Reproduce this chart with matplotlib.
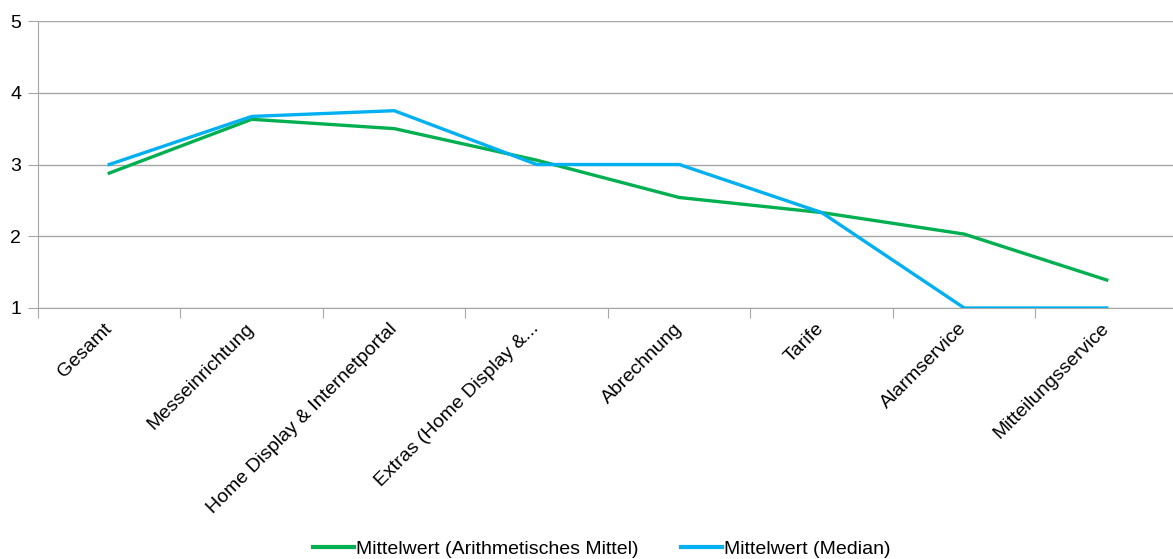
import numpy as np
import matplotlib
matplotlib.use('Agg')
import matplotlib.pyplot as plt

plt.rcParams['font.family'] = ['Liberation Sans', 'DejaVu Sans']

# Kategorien und Werte
kategorien = ['Gesamt', 'Messeinrichtung', 'Home Display & Internetportal',
              'Extras (Home Display &...', 'Abrechnung', 'Tarife',
              'Alarmservice', 'Mitteilungsservice']
mittel = [2.88, 3.63, 3.50, 3.06, 2.54, 2.33, 2.03, 1.39]
median = [3.0, 3.67, 3.75, 3.0, 3.0, 2.33, 1.0, 1.0]
y_ticks = [1, 2, 3, 4, 5]

fig = plt.figure(figsize=(11.73, 5.59), dpi=100)
ax = fig.add_axes([38 / 1173, 1 - 308 / 559, 1140 / 1173, 287 / 559])

x = np.arange(len(kategorien))
ax.plot(x, mittel, color='#00B050', lw=2.4, label='Mittelwert (Arithmetisches Mittel)', zorder=3)
ax.plot(x, median, color='#00B0F0', lw=2.4, label='Mittelwert (Median)', zorder=4)

ax.set_xlim(-0.5, len(kategorien) - 0.5)
ax.set_ylim(1, 5)
ax.set_yticks(y_ticks)
ax.yaxis.grid(True, color='#A6A6A6', lw=1)
ax.set_axisbelow(True)

for s in ['top', 'right']:
    ax.spines[s].set_visible(False)
ax.spines['left'].set_color('#A6A6A6')
ax.spines['bottom'].set_color('#A6A6A6')

ax.tick_params(axis='y', length=7, color='#A6A6A6', labelsize=14, pad=5)
# Teilstriche zwischen den Kategorien
ax.set_xticks(np.arange(-0.5, len(kategorien), 1.0))
ax.set_xticklabels([])
ax.tick_params(axis='x', length=7, color='#A6A6A6')
ax.set_xticks(x, minor=True)
ax.set_xticklabels(kategorien, minor=True, rotation=45, ha='right',
                   rotation_mode='anchor', fontsize=14)
ax.tick_params(axis='x', which='minor', length=0, pad=13)
for lbl in ax.get_xticklabels(minor=True):
    lbl.set_va('center')

leg = fig.legend(loc='center', bbox_to_anchor=(602 / 1173, 1 - 549 / 559), ncol=2,
                 frameon=False, fontsize=14, handlelength=2.1, handletextpad=0.1,
                 columnspacing=2.2)
for h in leg.get_lines():
    h.set_linewidth(3)

fig.savefig('out.png', dpi=100)
